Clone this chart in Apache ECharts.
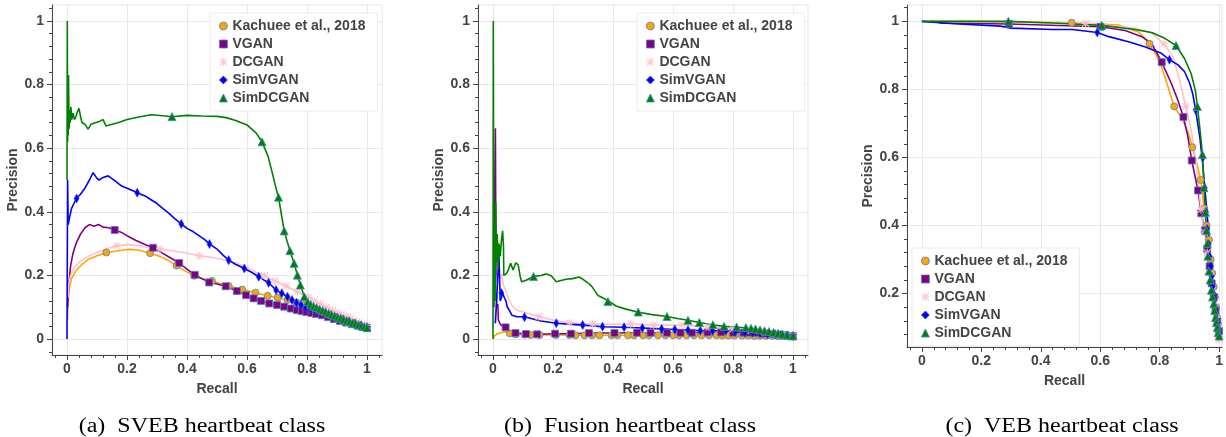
<!DOCTYPE html>
<html>
<head>
<meta charset="utf-8">
<script src="https://cdn.jsdelivr.net/npm/echarts@6/dist/echarts.min.js"></script>
<style>
  html, body { margin: 0; padding: 0; background: #fff; }
  #chart { width: 1226px; height: 437px; }
</style>
</head>
<body>
<div id="chart"></div>
<script>
// Legend / series names
const seriesNames = ['Kachuee et al., 2018', 'VGAN', 'DCGAN', 'SimVGAN', 'SimDCGAN'];

// Tick values
const majorTicks = [0, 0.2, 0.4, 0.6, 0.8, 1];
const majorTicksVeb = [0.2, 0.4, 0.6, 0.8, 1];
const minorTicks = [-0.04, 0.04, 0.08, 0.12, 0.16, 0.24, 0.28, 0.32, 0.36, 0.44, 0.48, 0.52, 0.56,
  0.64, 0.68, 0.72, 0.76, 0.84, 0.88, 0.92, 0.96, 1.04];
const minorTicksVeb = [0.08, 0.12, 0.16, 0.24, 0.28, 0.32, 0.36, 0.44, 0.48, 0.52, 0.56,
  0.64, 0.68, 0.72, 0.76, 0.84, 0.88, 0.92, 0.96, 1.04];

// (a) SVEB: curves [recall, precision]
const svebKachuee = [[0.002,0.06],[0.004,0.12],[0.008,0.16],[0.015,0.19],[0.03,0.215],[0.05,0.235],[0.07,0.25],[0.1,0.262],[0.131,0.272],[0.16,0.276],[0.19,0.28],[0.21,0.282],[0.24,0.279],[0.277,0.27],[0.31,0.26],[0.34,0.246],[0.365,0.231],[0.39,0.216],[0.424,0.199],[0.45,0.19],[0.483,0.183],[0.51,0.175],[0.539,0.167],[0.584,0.156],[0.628,0.146],[0.669,0.136],[0.702,0.13],[0.735,0.123],[0.77,0.114],[0.8,0.103],[0.83,0.091],[0.86,0.08],[0.9,0.067],[0.94,0.054],[0.97,0.045],[1,0.036]];
const svebVgan = [[0.002,0.1],[0.006,0.17],[0.012,0.23],[0.02,0.27],[0.03,0.3],[0.045,0.33],[0.06,0.35],[0.075,0.36],[0.09,0.355],[0.105,0.36],[0.12,0.352],[0.14,0.35],[0.159,0.343],[0.18,0.336],[0.2,0.325],[0.23,0.31],[0.26,0.297],[0.287,0.287],[0.31,0.275],[0.34,0.258],[0.374,0.239],[0.4,0.22],[0.426,0.202],[0.45,0.19],[0.474,0.178],[0.5,0.173],[0.529,0.166],[0.566,0.151],[0.597,0.138],[0.622,0.128],[0.647,0.12],[0.674,0.112],[0.7,0.107],[0.724,0.102],[0.746,0.096],[0.766,0.091],[0.783,0.088],[0.798,0.085],[0.82,0.081],[0.85,0.075],[0.88,0.066],[0.91,0.057],[0.94,0.049],[0.97,0.042],[1,0.035]];
const svebDcgan = [[0.003,0.13],[0.006,0.17],[0.012,0.2],[0.025,0.225],[0.045,0.245],[0.07,0.26],[0.1,0.272],[0.13,0.283],[0.166,0.293],[0.2,0.297],[0.24,0.294],[0.27,0.288],[0.31,0.283],[0.36,0.276],[0.4,0.27],[0.441,0.262],[0.48,0.257],[0.52,0.25],[0.56,0.24],[0.6,0.225],[0.63,0.21],[0.658,0.199],[0.694,0.182],[0.73,0.167],[0.768,0.149],[0.805,0.131],[0.84,0.112],[0.88,0.092],[0.92,0.075],[0.951,0.062],[0.98,0.05],[1,0.043]];
const svebSimVgan = [[0,0],[0.002,0.5],[0.004,0.36],[0.008,0.38],[0.015,0.41],[0.025,0.43],[0.032,0.442],[0.045,0.455],[0.06,0.475],[0.075,0.5],[0.087,0.523],[0.1,0.505],[0.107,0.5],[0.12,0.508],[0.137,0.513],[0.16,0.497],[0.182,0.481],[0.2,0.474],[0.22,0.466],[0.234,0.46],[0.26,0.45],[0.28,0.438],[0.3,0.426],[0.32,0.41],[0.34,0.395],[0.36,0.378],[0.381,0.362],[0.4,0.348],[0.42,0.338],[0.44,0.325],[0.46,0.312],[0.475,0.299],[0.5,0.283],[0.52,0.264],[0.539,0.248],[0.56,0.236],[0.591,0.222],[0.615,0.21],[0.639,0.196],[0.672,0.177],[0.697,0.154],[0.716,0.144],[0.735,0.133],[0.75,0.123],[0.765,0.114],[0.78,0.107],[0.8,0.099],[0.83,0.09],[0.86,0.08],[0.9,0.067],[0.94,0.055],[0.97,0.046],[1,0.037]];
const svebSimDcgan = [[0,0.5],[0.001,1.0],[0.002,0.62],[0.003,0.75],[0.004,0.64],[0.005,0.83],[0.007,0.66],[0.009,0.72],[0.011,0.68],[0.013,0.73],[0.016,0.69],[0.02,0.71],[0.025,0.69],[0.03,0.7],[0.035,0.715],[0.04,0.725],[0.045,0.7],[0.05,0.68],[0.06,0.675],[0.07,0.66],[0.08,0.675],[0.095,0.68],[0.11,0.685],[0.12,0.69],[0.13,0.67],[0.15,0.675],[0.17,0.68],[0.2,0.69],[0.24,0.698],[0.28,0.705],[0.32,0.702],[0.35,0.699],[0.4,0.703],[0.45,0.701],[0.5,0.7],[0.53,0.696],[0.56,0.688],[0.6,0.673],[0.63,0.648],[0.65,0.62],[0.67,0.575],[0.685,0.52],[0.695,0.48],[0.705,0.446],[0.715,0.39],[0.724,0.34],[0.733,0.31],[0.743,0.278],[0.757,0.238],[0.768,0.201],[0.778,0.17],[0.79,0.136],[0.802,0.117],[0.82,0.103],[0.85,0.09],[0.88,0.077],[0.91,0.066],[0.94,0.055],[0.97,0.045],[1,0.036]];

// (a) SVEB: marker positions
const svebKachueeMarks = [[0.131,0.272],[0.277,0.27],[0.365,0.231],[0.424,0.199],[0.483,0.183],[0.539,0.167],[0.584,0.156],[0.628,0.146],[0.669,0.136],[0.702,0.13],[0.735,0.123],[0.765,0.115],[0.79,0.107],[0.81,0.099],[0.83,0.091],[0.85,0.084],[0.87,0.077],[0.89,0.07],[0.91,0.064],[0.93,0.057],[0.95,0.051],[0.965,0.047],[0.98,0.042],[0.99,0.039],[1,0.036]];
const svebVganMarks = [[0.159,0.343],[0.287,0.287],[0.374,0.239],[0.426,0.202],[0.474,0.178],[0.529,0.166],[0.566,0.151],[0.597,0.138],[0.622,0.128],[0.647,0.12],[0.674,0.112],[0.7,0.107],[0.724,0.102],[0.746,0.096],[0.766,0.091],[0.783,0.088],[0.798,0.085],[0.815,0.082],[0.83,0.079],[0.85,0.075],[0.87,0.069],[0.89,0.063],[0.91,0.057],[0.93,0.052],[0.95,0.047],[0.97,0.042],[0.985,0.038],[1,0.035]];
const svebDcganMarks = [[0.166,0.293],[0.31,0.283],[0.441,0.262],[0.658,0.199],[0.694,0.182],[0.73,0.167],[0.768,0.149],[0.805,0.131],[0.825,0.12],[0.845,0.11],[0.865,0.1],[0.885,0.09],[0.9,0.083],[0.915,0.077],[0.93,0.071],[0.945,0.065],[0.96,0.058],[0.975,0.052],[0.99,0.046],[1,0.043]];
const svebSimVganMarks = [[0.032,0.442],[0.234,0.46],[0.381,0.362],[0.475,0.299],[0.539,0.248],[0.591,0.222],[0.639,0.196],[0.672,0.177],[0.697,0.154],[0.716,0.144],[0.735,0.133],[0.75,0.123],[0.765,0.114],[0.78,0.107],[0.795,0.1],[0.81,0.096],[0.825,0.092],[0.84,0.087],[0.86,0.08],[0.88,0.074],[0.9,0.067],[0.92,0.061],[0.94,0.055],[0.96,0.049],[0.98,0.043],[1,0.037]];
const svebSimDcganMarks = [[0.35,0.699],[0.65,0.62],[0.705,0.446],[0.724,0.34],[0.743,0.278],[0.757,0.238],[0.768,0.201],[0.778,0.17],[0.791,0.133],[0.802,0.117],[0.812,0.109],[0.822,0.103],[0.832,0.099],[0.842,0.094],[0.852,0.09],[0.862,0.086],[0.872,0.081],[0.882,0.077],[0.892,0.073],[0.902,0.069],[0.912,0.066],[0.922,0.062],[0.932,0.058],[0.942,0.055],[0.952,0.051],[0.962,0.048],[0.972,0.045],[0.982,0.042],[0.991,0.039],[1,0.036]];

// (b) Fusion: curves
const fusionKachuee = [[0.001,0.002],[0.005,0.01],[0.015,0.017],[0.03,0.021],[0.04,0.023],[0.056,0.018],[0.08,0.015],[0.12,0.013],[0.2,0.013],[0.3,0.012],[0.4,0.012],[0.5,0.012],[0.6,0.012],[0.7,0.012],[0.8,0.011],[0.9,0.01],[1,0.008]];
const fusionVgan = [[0.002,0.1],[0.005,0.4],[0.008,0.663],[0.01,0.2],[0.012,0.1],[0.016,0.11],[0.018,0.06],[0.025,0.045],[0.03,0.039],[0.04,0.037],[0.05,0.028],[0.056,0.02],[0.075,0.019],[0.11,0.016],[0.147,0.015],[0.207,0.017],[0.26,0.017],[0.32,0.019],[0.4,0.019],[0.47,0.02],[0.53,0.02],[0.58,0.02],[0.625,0.02],[0.663,0.02],[0.71,0.021],[0.76,0.021],[0.8,0.02],[0.84,0.02],[0.88,0.019],[0.92,0.016],[0.96,0.013],[1,0.01]];
const fusionDcgan = [[0.005,0.05],[0.01,0.15],[0.015,0.2],[0.02,0.21],[0.025,0.19],[0.029,0.206],[0.035,0.17],[0.045,0.144],[0.055,0.12],[0.062,0.107],[0.078,0.091],[0.1,0.086],[0.125,0.078],[0.153,0.07],[0.2,0.06],[0.255,0.051],[0.332,0.047],[0.4,0.047],[0.459,0.047],[0.536,0.044],[0.63,0.044],[0.7,0.04],[0.76,0.035],[0.82,0.03],[0.88,0.025],[0.94,0.018],[1,0.01]];
const fusionSimVgan = [[0.008,0.05],[0.012,0.12],[0.016,0.2],[0.02,0.26],[0.024,0.12],[0.028,0.13],[0.032,0.145],[0.038,0.13],[0.043,0.12],[0.048,0.1],[0.054,0.091],[0.063,0.075],[0.08,0.07],[0.106,0.07],[0.13,0.064],[0.16,0.057],[0.211,0.05],[0.25,0.047],[0.299,0.044],[0.365,0.039],[0.437,0.037],[0.498,0.035],[0.562,0.032],[0.606,0.03],[0.65,0.028],[0.7,0.026],[0.776,0.026],[0.807,0.023],[0.84,0.021],[0.88,0.019],[0.92,0.016],[0.96,0.013],[1,0.01]];
const fusionSimDcgan = [[0,0],[0.001,1.0],[0.003,0.1],[0.005,0.25],[0.007,0.12],[0.009,0.43],[0.011,0.24],[0.014,0.33],[0.017,0.22],[0.02,0.3],[0.024,0.26],[0.028,0.31],[0.032,0.34],[0.035,0.29],[0.036,0.2],[0.045,0.206],[0.052,0.22],[0.059,0.238],[0.067,0.217],[0.076,0.24],[0.084,0.233],[0.09,0.2],[0.095,0.18],[0.11,0.185],[0.136,0.197],[0.16,0.2],[0.178,0.205],[0.195,0.198],[0.211,0.18],[0.23,0.185],[0.244,0.188],[0.265,0.19],[0.286,0.195],[0.3,0.188],[0.316,0.177],[0.33,0.165],[0.349,0.138],[0.365,0.13],[0.385,0.12],[0.41,0.104],[0.44,0.095],[0.481,0.085],[0.53,0.077],[0.58,0.071],[0.619,0.064],[0.65,0.059],[0.688,0.052],[0.73,0.045],[0.77,0.04],[0.81,0.038],[0.85,0.034],[0.9,0.026],[0.95,0.018],[1,0.01]];

// (b) Fusion: marker positions
const fusionKachueeMarks = [[0.056,0.018],[0.075,0.015],[0.105,0.014],[0.125,0.013],[0.155,0.013],[0.21,0.013],[0.255,0.013],[0.275,0.012],[0.305,0.012],[0.33,0.012],[0.355,0.012],[0.395,0.012],[0.415,0.012],[0.45,0.012],[0.47,0.012],[0.5,0.012],[0.52,0.012],[0.55,0.012],[0.575,0.012],[0.6,0.012],[0.62,0.012],[0.645,0.012],[0.67,0.012],[0.695,0.012],[0.72,0.012],[0.745,0.012],[0.765,0.011],[0.785,0.011],[0.805,0.011],[0.83,0.011],[0.85,0.011],[0.87,0.01],[0.89,0.01],[0.91,0.01],[0.93,0.01],[0.95,0.009],[0.97,0.009],[0.985,0.008],[1,0.008]];
const fusionVganMarks = [[0.042,0.037],[0.075,0.019],[0.11,0.016],[0.147,0.015],[0.207,0.017],[0.26,0.017],[0.32,0.019],[0.405,0.019],[0.48,0.02],[0.525,0.02],[0.58,0.02],[0.625,0.02],[0.663,0.02],[0.715,0.021],[0.76,0.021],[0.8,0.02],[0.835,0.02],[0.855,0.02],[0.875,0.019],[0.9,0.017],[0.925,0.016],[0.95,0.014],[0.975,0.012],[1,0.01]];
const fusionDcganMarks = [[0.153,0.07],[0.255,0.051],[0.332,0.047],[0.459,0.047],[0.536,0.044],[0.63,0.044],[0.72,0.038],[0.8,0.032],[0.86,0.027],[0.9,0.023],[0.94,0.018],[0.97,0.014],[1,0.01]];
const fusionSimVganMarks = [[0.028,0.145],[0.105,0.069],[0.211,0.05],[0.299,0.044],[0.365,0.039],[0.437,0.037],[0.498,0.035],[0.562,0.032],[0.606,0.03],[0.65,0.028],[0.691,0.026],[0.732,0.026],[0.776,0.026],[0.807,0.023],[0.84,0.021],[0.865,0.02],[0.89,0.018],[0.915,0.016],[0.94,0.015],[0.96,0.013],[0.98,0.012],[1,0.01]];
const fusionSimDcganMarks = [[0.135,0.197],[0.383,0.118],[0.484,0.085],[0.58,0.071],[0.65,0.059],[0.688,0.052],[0.733,0.045],[0.77,0.04],[0.812,0.038],[0.843,0.036],[0.86,0.034],[0.875,0.032],[0.89,0.029],[0.905,0.026],[0.92,0.024],[0.935,0.021],[0.95,0.018],[0.965,0.016],[0.98,0.013],[1,0.01]];

// (c) VEB: curves
const vebKachuee = [[0,1.0],[0.2,0.999],[0.504,0.996],[0.662,0.989],[0.729,0.969],[0.766,0.934],[0.789,0.9],[0.806,0.867],[0.828,0.808],[0.849,0.75],[0.878,0.71],[0.897,0.671],[0.91,0.63],[0.928,0.573],[0.938,0.534],[0.95,0.45],[0.96,0.38],[0.97,0.3],[0.982,0.2],[0.993,0.12],[1,0.09]];
const vebVgan = [[0.059,0.995],[0.293,0.992],[0.601,0.984],[0.684,0.973],[0.74,0.955],[0.773,0.935],[0.807,0.88],[0.839,0.818],[0.861,0.769],[0.88,0.719],[0.895,0.661],[0.908,0.591],[0.929,0.503],[0.94,0.436],[0.952,0.386],[0.965,0.3],[0.978,0.2],[0.99,0.12],[1,0.08]];
const vebDcgan = [[0,1.0],[0.3,0.998],[0.551,0.994],[0.718,0.98],[0.773,0.965],[0.814,0.934],[0.845,0.896],[0.867,0.827],[0.888,0.75],[0.906,0.68],[0.922,0.592],[0.939,0.447],[0.955,0.35],[0.97,0.25],[0.985,0.15],[0.995,0.09],[1,0.06]];
const vebSimVgan = [[0,1.0],[0.109,0.993],[0.264,0.986],[0.3,0.98],[0.44,0.976],[0.507,0.976],[0.59,0.967],[0.629,0.955],[0.695,0.94],[0.75,0.925],[0.806,0.906],[0.833,0.887],[0.862,0.872],[0.884,0.852],[0.901,0.818],[0.911,0.788],[0.921,0.74],[0.935,0.66],[0.945,0.58],[0.955,0.48],[0.965,0.38],[0.971,0.297],[0.982,0.2],[0.993,0.12],[1,0.085]];
const vebSimDcgan = [[0,1.0],[0.291,1.0],[0.44,0.995],[0.605,0.988],[0.718,0.976],[0.773,0.967],[0.817,0.95],[0.855,0.929],[0.884,0.89],[0.906,0.846],[0.92,0.797],[0.927,0.75],[0.937,0.671],[0.944,0.609],[0.949,0.511],[0.954,0.439],[0.958,0.385],[0.962,0.31],[0.966,0.266],[0.975,0.2],[0.988,0.13],[0.996,0.09],[1,0.075]];

// (c) VEB: marker positions
const vebKachueeMarks = [[0.504,0.996],[0.766,0.934],[0.849,0.75],[0.91,0.63],[0.938,0.534],[0.95,0.45],[0.958,0.4],[0.966,0.358],[0.972,0.3],[0.977,0.26],[0.982,0.22],[0.986,0.19],[0.99,0.16],[0.993,0.13],[0.996,0.11],[1,0.09]];
const vebVganMarks = [[0.293,0.992],[0.601,0.984],[0.807,0.88],[0.88,0.719],[0.908,0.591],[0.929,0.503],[0.94,0.436],[0.952,0.386],[0.96,0.33],[0.968,0.28],[0.975,0.23],[0.982,0.19],[0.988,0.15],[0.994,0.12],[1,0.09]];
const vebDcganMarks = [[0.551,0.994],[0.814,0.934],[0.888,0.75],[0.939,0.447],[0.95,0.38],[0.96,0.32],[0.97,0.26],[0.978,0.21],[0.985,0.17],[0.99,0.13],[0.995,0.1],[1,0.065]];
const vebSimVganMarks = [[0.59,0.967],[0.833,0.887],[0.921,0.74],[0.945,0.6],[0.952,0.51],[0.956,0.44],[0.96,0.39],[0.965,0.345],[0.968,0.31],[0.972,0.28],[0.975,0.25],[0.978,0.22],[0.981,0.2],[0.984,0.18],[0.987,0.16],[0.99,0.14],[0.993,0.12],[0.996,0.1],[1,0.085]];
const vebSimDcganMarks = [[0.291,1.0],[0.605,0.988],[0.855,0.929],[0.927,0.75],[0.944,0.609],[0.949,0.511],[0.954,0.439],[0.958,0.385],[0.96,0.347],[0.962,0.31],[0.966,0.266],[0.97,0.24],[0.974,0.21],[0.978,0.19],[0.982,0.17],[0.985,0.15],[0.988,0.13],[0.991,0.115],[0.994,0.1],[0.997,0.085],[1,0.075]];

const captions = ['(a)  SVEB heartbeat class', '(b)  Fusion heartbeat class', '(c)  VEB heartbeat class'];

// styling per series
const lineColors = ['#ffa500', '#800080', '#ffc0cb', '#0000ff', '#008000'];
const markBorders = ['#4a86c8', '#4a86c8', '#ffc0cb', '#2a3fd0', '#4a86c8'];
const markBorderWidths = [0.8, 0.8, 0, 0.6, 0.8];
const asterisk = 'path://M-0.8,-6L0.8,-6L0.8,6L-0.8,6Z M-6,-0.8L6,-0.8L6,0.8L-6,0.8Z ' +
  'M4.43,5.57L5.57,4.43L-4.43,-5.57L-5.57,-4.43Z M-4.43,5.57L-5.57,4.43L4.43,-5.57L5.57,-4.43Z';
const markShapes = ['circle', 'rect', asterisk, 'diamond', 'triangle'];
const markSizes = [7, 7, 8, [5, 9], 8];

const font = '"Liberation Sans", Arial, Helvetica, sans-serif';
const textColor = '#444';

const panels = [
  {
    grid: { left: 52, top: 5, width: 330, height: 350 },
    xRange: [-0.05, 1.05], yRange: [-0.05, 1.05],
    yTicks: majorTicks, yMinor: minorTicks,
    legend: { left: 210, top: 13 },
    captionX: 202,
    lines: [svebKachuee, svebVgan, svebDcgan, svebSimVgan, svebSimDcgan],
    marks: [svebKachueeMarks, svebVganMarks, svebDcganMarks, svebSimVganMarks, svebSimDcganMarks]
  },
  {
    grid: { left: 478, top: 5, width: 330, height: 350 },
    xRange: [-0.05, 1.05], yRange: [-0.05, 1.05],
    yTicks: majorTicks, yMinor: minorTicks,
    legend: { left: 637, top: 13 },
    captionX: 630,
    lines: [fusionKachuee, fusionVgan, fusionDcgan, fusionSimVgan, fusionSimDcgan],
    marks: [fusionKachueeMarks, fusionVganMarks, fusionDcganMarks, fusionSimVganMarks, fusionSimDcganMarks]
  },
  {
    grid: { left: 907, top: 5, width: 318, height: 342 },
    xRange: [-0.05, 1.01], yRange: [0.043, 1.048],
    yTicks: majorTicksVeb, yMinor: minorTicksVeb,
    legend: { left: 912, top: 248 },
    captionX: 1062,
    lines: [vebKachuee, vebVgan, vebDcgan, vebSimVgan, vebSimDcgan],
    marks: [vebKachueeMarks, vebVganMarks, vebDcganMarks, vebSimVganMarks, vebSimDcganMarks]
  }
];

const labelStyle = { color: textColor, fontWeight: 'bold', fontSize: 14, fontFamily: font };

const grids = [], xAxes = [], yAxes = [], legends = [], series = [], graphics = [];

panels.forEach((p, i) => {
  grids.push(Object.assign({ show: true, borderColor: '#e6e6e6', borderWidth: 1, containLabel: false }, p.grid));

  // main x axis
  xAxes.push({
    type: 'value', gridIndex: i, min: p.xRange[0], max: p.xRange[1],
    name: 'Recall', nameLocation: 'middle', nameGap: 27, nameTextStyle: labelStyle,
    axisLine: { show: true, onZero: false, lineStyle: { color: textColor, width: 1 } },
    axisTick: { show: true, length: 5, customValues: majorTicks, lineStyle: { color: textColor } },
    axisLabel: Object.assign({ customValues: majorTicks, margin: 7 }, labelStyle),
    splitLine: { show: true, lineStyle: { color: '#e8e8e8', width: 1 } }
  });
  // minor x ticks
  xAxes.push({
    type: 'value', gridIndex: i, min: p.xRange[0], max: p.xRange[1], position: 'bottom',
    axisLine: { show: false, onZero: false },
    axisTick: { show: true, length: 3, customValues: minorTicks, lineStyle: { color: textColor } },
    axisLabel: { show: false }, splitLine: { show: false }
  });
  // main y axis
  yAxes.push({
    type: 'value', gridIndex: i, min: p.yRange[0], max: p.yRange[1],
    name: 'Precision', nameLocation: 'middle', nameGap: 31, nameTextStyle: labelStyle,
    axisLine: { show: true, onZero: false, lineStyle: { color: textColor, width: 1 } },
    axisTick: { show: true, length: 5, customValues: p.yTicks, lineStyle: { color: textColor } },
    axisLabel: Object.assign({ customValues: p.yTicks, margin: 8 }, labelStyle),
    splitLine: { show: true, lineStyle: { color: '#e8e8e8', width: 1 } }
  });
  // minor y ticks
  yAxes.push({
    type: 'value', gridIndex: i, min: p.yRange[0], max: p.yRange[1], position: 'left',
    axisLine: { show: false, onZero: false },
    axisTick: { show: true, length: 3, customValues: p.yMinor, lineStyle: { color: textColor } },
    axisLabel: { show: false }, splitLine: { show: false }
  });

  legends.push({
    left: p.legend.left, top: p.legend.top, orient: 'vertical',
    backgroundColor: '#fff', borderColor: '#ececec', borderWidth: 1,
    padding: [6, 12, 6, 9], itemGap: 4, itemWidth: 8, itemHeight: 8,
    selectedMode: false, z: 10,
    textStyle: { color: textColor, fontWeight: 'bold', fontSize: 14, fontFamily: font, lineHeight: 14 },
    data: seriesNames.map((name, k) => ({
      name: name,
      icon: markShapes[k],
      itemStyle: { color: lineColors[k], borderColor: markBorders[k], borderWidth: markBorderWidths[k] }
    }))
  });

  seriesNames.forEach((name, k) => {
    series.push({
      type: 'line', name: name, xAxisIndex: 2 * i, yAxisIndex: 2 * i,
      data: p.lines[k], symbol: 'none', showSymbol: false, silent: true,
      lineStyle: { color: lineColors[k], width: 1.6 },
      itemStyle: { color: lineColors[k] }, z: 2
    });
  });
  seriesNames.forEach((name, k) => {
    series.push({
      type: 'scatter', name: name, xAxisIndex: 2 * i, yAxisIndex: 2 * i,
      data: p.marks[k], symbol: markShapes[k], symbolSize: markSizes[k], silent: true,
      itemStyle: { color: lineColors[k], borderColor: markBorders[k], borderWidth: markBorderWidths[k], opacity: 1 },
      z: 3
    });
  });

  graphics.push({
    type: 'text', x: p.captionX, y: 427, scaleX: 1.2,
    style: {
      text: captions[i], fill: '#000',
      font: '20px "Liberation Serif", "Times New Roman", serif',
      align: 'center', verticalAlign: 'middle', textAlign: 'center', textVerticalAlign: 'middle'
    }
  });
});

const chart = echarts.init(document.getElementById('chart'), null, { renderer: 'canvas' });
chart.setOption({
  animation: false,
  backgroundColor: '#fff',
  grid: grids,
  xAxis: xAxes,
  yAxis: yAxes,
  legend: legends,
  series: series,
  graphic: graphics
});
</script>
</body>
</html>
